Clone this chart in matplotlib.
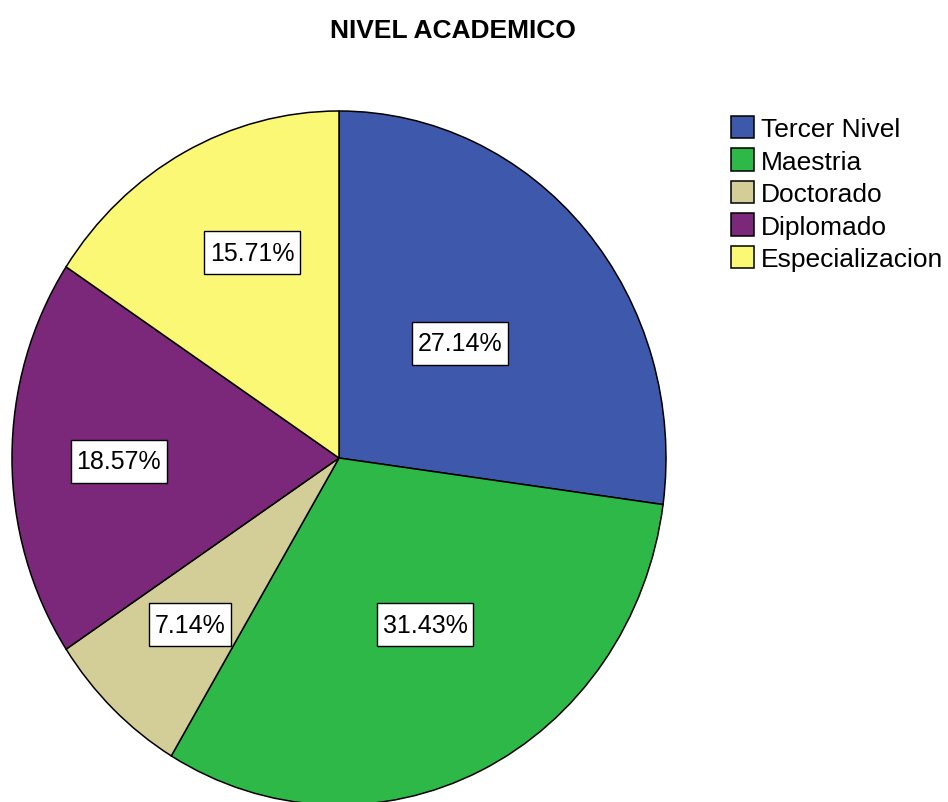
import matplotlib.pyplot as plt
from matplotlib.patches import Patch
from matplotlib.path import Path

plt.rcParams['font.family'] = ['Liberation Sans', 'DejaVu Sans']

# Data
categories = ['Tercer Nivel', 'Maestria', 'Doctorado', 'Diplomado', 'Especializacion']
counts = [19, 22, 5, 13, 11]
colors = ['#3E58AC', '#2EB848', '#D3CE97', '#7B287B', '#FBF875']

# label box centres, in pie units (x, y)
label_xy = [(0.370, 0.331), (0.263, -0.481), (-0.456, -0.481),
            (-0.673, -0.009), (-0.266, 0.591)]

W, H = 948, 803
fig = plt.figure(figsize=(W/100, H/100), dpi=100)


def tall_box(x0, y0, width, height, mutation_size):
    # rectangle with more padding above/below than at the sides
    px = 0.24*mutation_size
    py = 0.38*mutation_size
    x0, x1 = x0 - px, x0 + width + px
    y0, y1 = y0 - py, y0 + height + py
    return Path([(x0, y0), (x1, y0), (x1, y1), (x0, y1), (x0, y0)],
                closed=True)


# pie centre (339, 459) px, radii 327 x 347 px
cx, cy, rx, ry = 339, 459, 327, 347
ax = fig.add_axes([(cx - rx)/W, (H - cy - ry)/H, 2*rx/W, 2*ry/H])

wedges, texts, autotexts = ax.pie(
    counts, colors=colors, startangle=90, counterclock=False,
    autopct='%1.2f%%',
    wedgeprops=dict(edgecolor='black', linewidth=1.1),
    textprops=dict(fontsize=18))
ax.set_aspect('auto')
ax.set_xlim(-1, 1)
ax.set_ylim(-1, 1)

for t, (x, y) in zip(autotexts, label_xy):
    t.set_position((x, y))
    t.set_ha('center')
    t.set_va('center')
    t.set_bbox(dict(boxstyle=tall_box, facecolor='white',
                    edgecolor='black', linewidth=1.0))

for w in wedges:
    w.set_clip_on(False)

fig.text(453/W, 1 - 31/H, 'NIVEL ACADEMICO', ha='center', va='center',
         fontsize=19, fontweight='bold')

handles = [Patch(facecolor=c, edgecolor='black', linewidth=1.1) for c in colors]
fig.legend(handles, categories, loc='upper left',
           bbox_to_anchor=(731/W, 1 - 117/H), frameon=False,
           fontsize=19, handlelength=0.88, handleheight=0.92,
           handletextpad=0.27, labelspacing=0.275, borderpad=0,
           borderaxespad=0)

fig.savefig('out.png', dpi=100)
